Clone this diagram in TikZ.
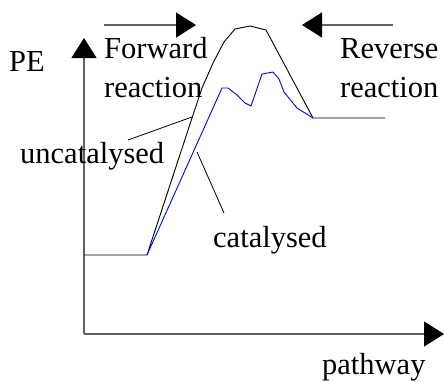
\documentclass[tikz,border=0pt]{standalone}
\usepackage{fontspec}
\setmainfont{Liberation Serif}
\usetikzlibrary{arrows.meta}
\begin{document}
\begin{tikzpicture}[x=1pt,y=-1pt,
  lbl/.style={anchor=base west,inner sep=0pt,font=\fontsize{30.5}{39}\selectfont},
  axis/.style={draw=black!62,line width=1.3pt,-{Triangle[length=20pt,width=25pt,black]}},
  curve/.style={draw=black,line width=0.9pt,line join=round},
  cat/.style={draw=blue,line width=0.9pt,line join=round},
  ptr/.style={draw=black,line width=0.8pt}]
\useasboundingbox (0,0) rectangle (444,381);
% axes
\coordinate (O) at (84,334);
\coordinate (ytop) at (84,38);
\coordinate (xend) at (444,334);
\draw[axis] (O) -- (ytop);
\draw[axis] (O) -- (xend);
% direction arrows
\coordinate (f1) at (104,25);
\coordinate (f2) at (196,25);
\coordinate (r1) at (393,25);
\coordinate (r2) at (302,25);
\draw[axis] (f1) -- (f2);
\draw[axis] (r1) -- (r2);
% uncatalysed curve
\draw[curve] (84,255) -- (147,255) -- (192,118) -- (202,88) -- (213,63) -- (224,42) -- (235,29) -- (250,26) -- (266,30) -- (313,118) -- (385,118);
% catalysed curve
\draw[cat] (147,255) -- (222,88) -- (228,88) -- (237,95) -- (245,103) -- (251,106) -- (262,74) -- (273,72) -- (279,79) -- (284,92) -- (297,108) -- (313,118);
% labels
\node[lbl] (pe) at (9,71) {PE};
\node[lbl] (fw) at (104,58) {Forward};
\node[lbl] (fr) at (104,97) {reaction};
\node[lbl] (rv) at (340,58) {Reverse};
\node[lbl] (rr) at (340,97) {reaction};
\node[lbl] (unc) at (20,163) {uncatalysed};
\node[lbl] (catl) at (213,247) {catalysed};
\node[lbl] (pw) at (322,374) {pathway};
% pointers
\coordinate (u1) at (128,140);
\coordinate (u2) at (192,117);
\coordinate (c1) at (197,152);
\coordinate (c2) at (224,213);
\draw[ptr] (u1) -- (u2);
\draw[ptr] (c1) -- (c2);
\end{tikzpicture}
\end{document}
